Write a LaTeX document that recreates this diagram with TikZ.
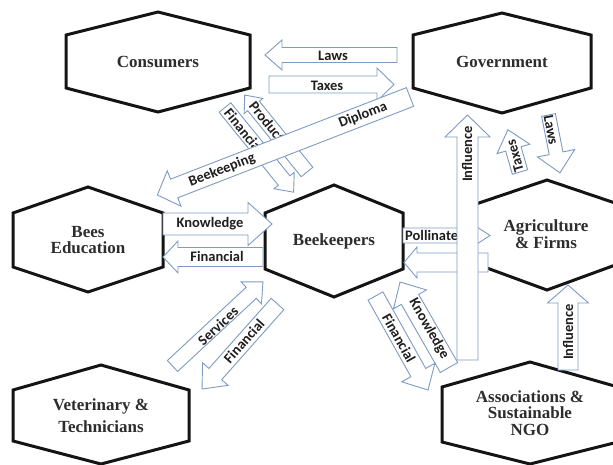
\documentclass[tikz,border=0pt]{standalone}
\usepackage{fontspec}
\setmainfont{Liberation Serif}
\newfontfamily\labelfont{Carlito}
\definecolor{arrowblue}{RGB}{125,155,195}
\definecolor{hexgray}{RGB}{45,45,45}
% block arrow: tail x, tail y, angle, length, shaft half, head half, head length
\newcommand{\blockarrow}[7]{%
  \draw[barrow,shift={(#1,#2)},rotate=#3]
    (0,-#5)--({#4-#7},-#5)--({#4-#7},-#6)--(#4,0)--({#4-#7},#6)--({#4-#7},#5)--(0,#5)--cycle;}
\begin{document}
\begin{tikzpicture}[x=1pt,y=-1pt,
  hexa/.style={draw=black!92,line width=3pt,fill=white,line join=miter},
  hextext/.style={font=\bfseries\fontsize{17}{16.5}\selectfont,text=hexgray,align=center},
  barrow/.style={draw=arrowblue,fill=white,line width=0.9pt,line join=miter},
  lab/.style={font=\labelfont\bfseries\fontsize{14.5}{15}\selectfont,text=black!88,inner sep=0pt}]
\useasboundingbox (0,0) rectangle (613,465);
%
\draw[hexa](158,12)--(250,35)--(250,88)--(158,112)--(66,88)--(66,35)--cycle;
\node[hextext](cons) at (158,62){Consumers};
\draw[hexa](502,13)--(591,35)--(591,88)--(502,113)--(413,88)--(413,35)--cycle;
\node[hextext](gov) at (502,62){Government};
\draw[hexa](88,187)--(163,213)--(163,267)--(88,292)--(13,267)--(13,213)--cycle;
\node[hextext](edu) at (88,240){Bees\\Education};
\draw[hexa](334,185)--(403,213)--(403,269)--(334,297)--(265,269)--(265,213)--cycle;
\node[hextext](bkp) at (334,241){Beekeepers};
\draw[hexa](547,180)--(618,204)--(618,264)--(547,290)--(476,264)--(476,204)--cycle;
\node[hextext](agr) at (546,234){Agriculture\\\& Firms};
\draw[hexa](101,365)--(189,390)--(189,441)--(101,464)--(13,441)--(13,390)--cycle;
\node[hextext,font=\bfseries\fontsize{17}{22}\selectfont](vet) at (101,416){Veterinary \&\\Technicians};
\draw[hexa](530,362)--(618,387)--(618,442)--(530,464)--(442,442)--(442,387)--cycle;
\node[hextext](ngo) at (530,413){Associations \&\\Sustainable\\NGO};
%
\blockarrow{397}{55}{180}{132}{7.5}{15}{17}
\node[lab](lawsTop) at (333,56){Laws};
\blockarrow{269}{84.5}{0}{125}{8.5}{16.5}{17}
\node[lab](taxesTop) at (327,86){Taxes};
%
\blockarrow{225}{107.5}{-51}{109}{7.5}{13}{15}
\node[lab,rotate=-51](finCons) at (244,131){Financial};
\blockarrow{307}{172}{129}{99}{7.5}{12}{14}
\node[lab,rotate=-51](product) at (267,122){Product};
\blockarrow{410}{97}{201.2}{271}{10}{19}{18}
\node[lab,rotate=21.2](beekeeping) at (222,170){Beekeeping};
\node[lab,rotate=21.2](diploma) at (363,115){Diploma};
%
\blockarrow{163}{224}{0}{109}{11}{21.5}{24}
\node[lab](knowEdu) at (210,224){Knowledge};
\blockarrow{263}{257}{180}{100}{9.5}{16}{15}
\node[lab](finEdu) at (217,256){Financial};
%
\blockarrow{403}{235.5}{0}{87}{7.5}{13}{20}
\node[lab,anchor=west](pollinate) at (405,235.5){Pollinate};
\blockarrow{488}{262.5}{180}{84}{9.5}{15.5}{13}
\blockarrow{467.5}{360}{90}{245}{10.5}{22.5}{22}
\node[lab,rotate=90](influenceGov) at (467,154){Influence};
%
\blockarrow{520}{172}{106}{44}{8}{17}{20}
\node[lab,rotate=106](taxesAgr) at (515,156){Taxes};
\blockarrow{548.5}{115}{-78.8}{59}{7}{19}{20}
\node[lab,rotate=-79](lawsAgr) at (551,130){Laws};
%
\blockarrow{449}{367.5}{119.8}{98.5}{10}{19}{20}
\node[lab,rotate=-60.2](knowNgo) at (429,329){Knowledge};
\blockarrow{375.5}{296}{-60.8}{107.7}{8.5}{19}{20}
\node[lab,rotate=-60.8](finNgo) at (399,338){Financial};
\blockarrow{568}{370}{90}{85}{10}{20.5}{18}
\node[lab,rotate=90](influenceAgr) at (568,332){Influence};
%
\blockarrow{172.5}{366}{42.9}{123.5}{7.5}{15}{16}
\node[lab,rotate=42.9](services) at (218,326){Services};
\blockarrow{277.5}{304}{228.4}{113.7}{8.5}{17}{20}
\node[lab,rotate=48.4](finVet) at (244,341){Financial};
\end{tikzpicture}
\end{document}
